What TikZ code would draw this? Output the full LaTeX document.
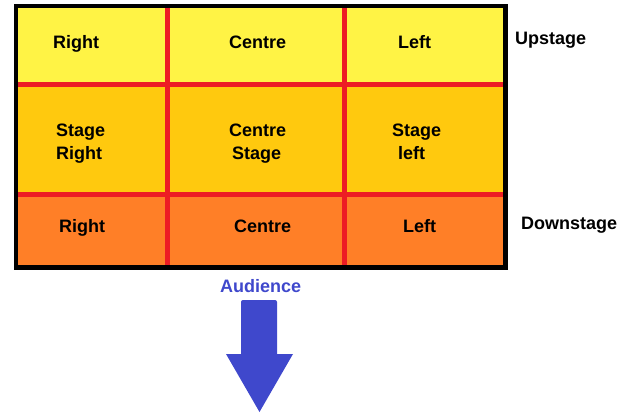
\documentclass[tikz,border=0pt]{standalone}
\usepackage{fontspec}
\setmainfont{Liberation Sans}
\definecolor{upcol}{HTML}{FFF345}
\definecolor{midcol}{HTML}{FFC90E}
\definecolor{downcol}{HTML}{FF7F27}
\definecolor{gridred}{HTML}{ED1C24}
\definecolor{audblue}{HTML}{3F48CC}
\tikzset{
  lbl/.style={font=\fontsize{18}{22}\selectfont\bfseries, text=black, inner sep=0pt, anchor=base west},
  gridline/.style={draw=gridred, line width=5pt},
  frame/.style={draw=black, line width=4.5pt},
}
\begin{document}
\begin{tikzpicture}[x=1pt,y=-1pt]
\useasboundingbox (0,0) rectangle (622,417);
% cell fills
\fill[upcol] (16,6) rectangle (505,84.5);
\fill[midcol] (16,84.5) rectangle (505,195);
\fill[downcol] (16,195) rectangle (505,267);
% grid lines
\draw[gridline] (167,6) -- (167,267);
\draw[gridline] (344,6) -- (344,267);
\draw[gridline] (16,84.5) -- (505,84.5);
\draw[gridline] (16,195) -- (505,195);
% frame
\draw[frame] (16,6) rectangle (505.5,267.5);
% labels
\node[lbl] (ur) at (53,49) {Right};
\node[lbl] (uc) at (229,49) {Centre};
\node[lbl] (ul) at (398,49) {Left};
\node[lbl] (mr1) at (56,137) {Stage};
\node[lbl] (mr2) at (56,159.5) {Right};
\node[lbl] (mc1) at (229,137) {Centre};
\node[lbl] (mc2) at (232,159.5) {Stage};
\node[lbl] (ml1) at (392,137) {Stage};
\node[lbl] (ml2) at (398,159.5) {left};
\node[lbl] (dr) at (59,233) {Right};
\node[lbl] (dc) at (234,233) {Centre};
\node[lbl] (dl) at (403,233) {Left};
\node[lbl] (up) at (515,45) {Upstage};
\node[lbl] (down) at (521,230) {Downstage};
\node[lbl, text=audblue] (aud) at (220,293) {Audience};
% arrow
\fill[audblue, rounded corners=2pt] (241,300) -- (277,300) -- (277,340) [sharp corners] -- (277,354) -- (293,354) -- (259.5,412) -- (226,354) -- (241,354) [rounded corners=2pt] -- (241,330) -- cycle;
\end{tikzpicture}
\end{document}
